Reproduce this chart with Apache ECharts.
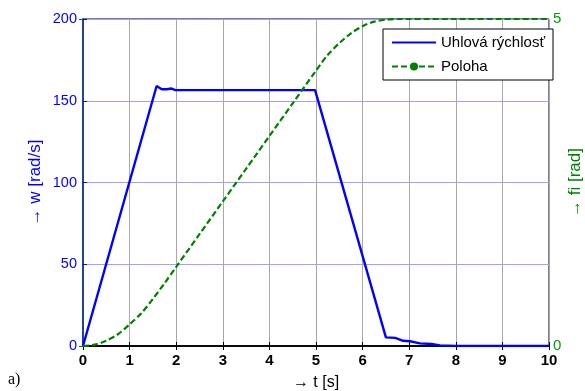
<!DOCTYPE html>
<html>
<head>
<meta charset="utf-8">
<script src="https://cdn.jsdelivr.net/npm/echarts@6/dist/echarts.min.js"></script>
<style>
html,body{margin:0;padding:0;background:#fff;}
#c{width:585px;height:391px;}
</style>
</head>
<body>
<div id="c"></div>
<script>
// Time ticks
const tTicks = [0,1,2,3,4,5,6,7,8,9,10];
const wTicks = [0,50,100,150,200];
const fiTicks = [0,5];

// Angular speed w [rad/s]
const wTime  = [0, 1.58, 1.69, 1.80, 1.90, 1.98, 4.98, 6.50, 6.70, 6.87, 7.02, 7.23, 7.48, 7.66, 8.0, 10];
const wValue = [0, 159, 157, 157, 157.5, 156.5, 156.5, 5.3, 5.0, 3.2, 2.9, 1.6, 1.2, 0.4, 0, 0];

// Position fi [rad]
const fiTime  = [0, 0.25, 0.5, 0.75, 1.0, 1.25, 1.5, 1.75, 2.0, 2.5, 3.0, 3.5, 4.0, 4.5, 5.0, 5.25, 5.5, 5.75, 6.0, 6.25, 6.5, 6.75, 7.0, 8.0, 9.0, 10];
const fiValue = [0, 0.02, 0.08, 0.18, 0.33, 0.50, 0.72, 0.96, 1.21, 1.71, 2.21, 2.71, 3.21, 3.71, 4.21, 4.45, 4.63, 4.78, 4.89, 4.96, 4.99, 5.0, 5.0, 5.0, 5.0, 5.0];

const seriesNames = ['Uhlová rýchlosť', 'Poloha'];

const wData = wTime.map((t, i) => [t, wValue[i]]);
const fiData = fiTime.map((t, i) => [t, fiValue[i]]);

const chart = echarts.init(document.getElementById('c'), null, {renderer: 'canvas'});
const FONT = 'Liberation Sans, Arial, sans-serif';

chart.setOption({
  animation: false,
  backgroundColor: '#ffffff',
  grid: {left: 83, right: 36, top: 19, bottom: 45, containLabel: false, outerBoundsMode: 'none',
         show: true, borderColor: '#000', borderWidth: 1, backgroundColor: 'transparent'},
  legend: {
    data: [
      {name: seriesNames[0]},
      {name: seriesNames[1]}
    ],
    orient: 'vertical',
    right: 32, top: 29,
    backgroundColor: '#fff',
    borderColor: '#000',
    borderWidth: 1,
    borderRadius: 0,
    padding: [6, 8, 6, 8],
    itemGap: 9,
    itemWidth: 44,
    itemHeight: 10,
    textStyle: {fontFamily: FONT, fontSize: 15, color: '#000'}
  },
  xAxis: [{
    type: 'value', min: 0, max: 10, interval: 1,
    position: 'bottom',
    name: '→ t [s]', nameLocation: 'middle', nameGap: 29,
    nameTextStyle: {fontFamily: FONT, fontSize: 16, color: '#000'},
    axisLine: {lineStyle: {color: '#000', width: 1.5}},
    axisTick: {inside: true, length: 4, lineStyle: {color: '#000'}},
    axisLabel: {fontFamily: FONT, fontSize: 15, fontWeight: 'bold', color: '#000', margin: 7},
    splitLine: {show: true, lineStyle: {color: '#a8a8a8', width: 1}}
  }, {
    type: 'value', min: 0, max: 10, interval: 1,
    position: 'top',
    axisLine: {show: true, lineStyle: {color: '#000', width: 1.5}},
    axisTick: {inside: true, length: 4, lineStyle: {color: '#000'}},
    axisLabel: {show: false},
    splitLine: {show: false}
  }],
  yAxis: [{
    type: 'value', min: 0, max: 200, interval: 50,
    position: 'left',
    name: '→ w [rad/s]', nameLocation: 'middle', nameGap: 39, nameRotate: 90,
    nameMoveOverlap: false,
    nameTextStyle: {fontFamily: FONT, fontSize: 17, color: '#0000ff'},
    axisLine: {show: true, lineStyle: {color: '#0000ff', width: 1.5}},
    axisTick: {show: true, inside: true, length: 4, lineStyle: {color: '#0000ff'}},
    axisLabel: {fontFamily: FONT, fontSize: 14.5, color: '#0000ff', margin: 6},
    splitLine: {show: true, lineStyle: {color: '#a0a0ff', width: 1}}
  }, {
    type: 'value', min: 0, max: 5, interval: 5,
    position: 'right',
    name: '→ fi [rad]', nameLocation: 'middle', nameGap: 18, nameRotate: 90,
    nameMoveOverlap: false,
    nameTextStyle: {fontFamily: FONT, fontSize: 17, color: '#008000'},
    axisLine: {show: true, lineStyle: {color: '#1f4e79', width: 1.5}},
    axisTick: {show: true, inside: true, length: 4, lineStyle: {color: '#008000'}},
    axisLabel: {fontFamily: FONT, fontSize: 15, color: '#00a000', margin: 4},
    splitLine: {show: false}
  }],
  series: [{
    name: seriesNames[0],
    type: 'line',
    xAxisIndex: 0, yAxisIndex: 0,
    data: wData,
    showSymbol: false,
    symbol: 'circle',
    symbolSize: 0,
    lineStyle: {color: '#0000ff', width: 2.4},
    itemStyle: {color: '#0000ff', opacity: 0}
  }, {
    name: seriesNames[1],
    type: 'line',
    xAxisIndex: 0, yAxisIndex: 1,
    data: fiData,
    smooth: 0.3,
    showSymbol: false,
    symbol: 'circle',
    symbolSize: 5,
    lineStyle: {color: '#008000', width: 2.2, type: [6, 3]},
    itemStyle: {color: '#008000'}
  }],
  graphic: [{
    type: 'text',
    left: 8, top: 372,
    style: {text: 'a)', fontFamily: 'Liberation Serif, Times New Roman, serif', fontSize: 16, fill: '#000'}
  }]
});
</script>
</body>
</html>
